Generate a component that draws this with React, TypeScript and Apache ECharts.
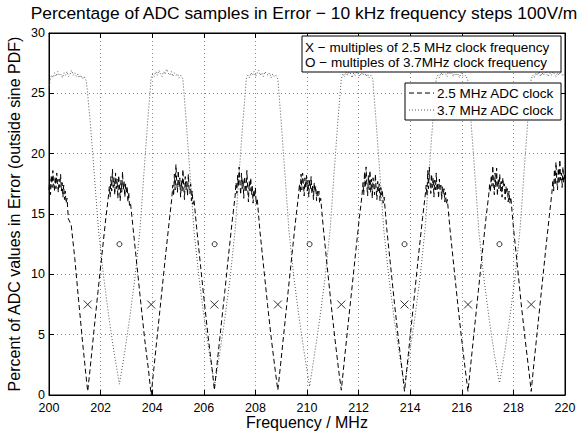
import React, { useEffect, useRef } from "react";
import * as echarts from "echarts";

const TITLE = "Percentage of ADC samples in Error − 10 kHz frequency steps 100V/m";
const X_NAME = "Frequency / MHz";
const Y_NAME = "Percent of ADC values in Error (outside sine PDF)";
const MARKER_NOTES = [
  "X − multiples of 2.5 MHz clock frequency",
  "O − multiples of 3.7MHz clock frequency",
];
const SERIES_NAMES = ["2.5 MHz ADC clock", "3.7 MHz ADC clock"];

const X_MIN = 200;
const X_MAX = 220;
const X_STEP = 2;
const Y_MIN = 0;
const Y_MAX = 30;
const Y_STEP = 5;

// "X" markers (multiples of 2.5 MHz clock)
const clock25Freqs = [201.5, 203.96, 206.41, 208.87, 211.33, 213.78, 216.24, 218.69];
const clock25Level = 7.5;
// "O" markers (multiples of 3.7 MHz clock)
const clock37Freqs = [202.73, 206.42, 210.1, 213.78, 217.46];
const clock37Level = 12.5;

// 2.5 MHz ADC clock (dashed)
const adc25: [number, number][] = [
  [200.0, 17.0], [200.03, 17.9], [200.06, 16.6], [200.09, 18.2], [200.12, 17.2], [200.15, 18.6], [200.18, 17.5], [200.21, 16.9], [200.24, 18.1], [200.27, 17.1], [200.3, 18.4], [200.33, 17.6], [200.36, 16.8], [200.39, 17.9], [200.42, 17.2], [200.45, 18.3], [200.48, 16.9], [200.51, 17.6], [200.54, 16.4], [200.57, 17.4], [200.6, 16.2], [200.63, 16.9], [200.66, 15.9], [200.7, 16.3], [200.75, 14.6], [200.86, 14.1],
  [201.0, 11.3], [201.15, 7.8], [201.3, 4.4], [201.42, 1.9], [201.5, 0.3],
  [201.6, 2.3], [201.75, 5.5], [201.9, 8.6], [202.05, 11.6], [202.2, 14.6], [202.3, 16.4],
  [202.34, 17.3], [202.37, 16.4], [202.4, 18.1], [202.43, 16.9], [202.46, 18.7], [202.49, 17.2], [202.52, 18.0], [202.55, 16.6], [202.58, 18.4], [202.61, 17.1], [202.64, 17.9], [202.67, 16.3], [202.7, 18.2], [202.73, 17.4], [202.76, 16.1], [202.79, 17.8], [202.82, 16.8], [202.85, 18.5], [202.88, 17.0], [202.91, 17.7], [202.94, 16.4], [202.97, 17.5], [203.0, 16.7], [203.03, 17.3], [203.06, 16.0], [203.09, 16.8], [203.12, 15.7], [203.16, 15.9],
  [203.26, 13.8], [203.41, 10.7], [203.56, 7.6], [203.71, 4.6], [203.86, 2.0], [203.96, 0.0],
  [204.06, 2.1], [204.21, 5.2], [204.36, 8.3], [204.51, 11.4], [204.66, 14.4], [204.76, 16.3],
  [204.8, 17.4], [204.83, 16.5], [204.86, 18.3], [204.89, 17.0], [204.92, 19.1], [204.95, 17.7], [204.98, 16.8], [205.01, 18.6], [205.04, 17.2], [205.07, 18.0], [205.1, 16.4], [205.13, 17.8], [205.16, 16.9], [205.19, 18.7], [205.22, 17.3], [205.25, 16.2], [205.28, 18.1], [205.31, 17.0], [205.34, 17.7], [205.37, 16.5], [205.4, 18.3], [205.43, 17.1], [205.46, 16.7], [205.49, 17.5], [205.52, 16.1], [205.55, 16.9], [205.58, 15.8], [205.62, 16.2],
  [205.72, 13.9], [205.87, 10.8], [206.02, 7.7], [206.17, 4.8], [206.32, 2.2], [206.41, 0.4],
  [206.51, 2.5], [206.66, 5.5], [206.81, 8.5], [206.96, 11.6], [207.11, 14.6], [207.21, 16.4],
  [207.25, 17.6], [207.28, 16.7], [207.31, 18.2], [207.34, 17.3], [207.37, 18.9], [207.4, 17.5], [207.43, 16.6], [207.46, 18.4], [207.49, 17.1], [207.52, 17.9], [207.55, 16.3], [207.58, 18.1], [207.61, 17.4], [207.64, 16.8], [207.67, 18.6], [207.7, 17.2], [207.73, 16.0], [207.76, 17.7], [207.79, 16.9], [207.82, 18.0], [207.85, 16.6], [207.88, 17.3], [207.91, 15.9], [207.94, 17.0], [207.97, 16.4], [208.0, 17.2], [208.03, 15.8], [208.07, 16.3],
  [208.17, 13.7], [208.32, 10.6], [208.47, 7.5], [208.62, 4.6], [208.77, 2.0], [208.87, 0.4],
  [208.97, 2.4], [209.12, 5.5], [209.27, 8.6], [209.42, 11.7], [209.57, 14.7], [209.67, 16.5],
  [209.71, 17.5], [209.74, 16.8], [209.77, 18.3], [209.8, 17.0], [209.83, 18.4], [209.86, 17.6], [209.89, 16.5], [209.92, 18.0], [209.95, 17.2], [209.98, 18.2], [210.01, 16.9], [210.04, 17.8], [210.07, 16.4], [210.1, 17.9], [210.13, 17.1], [210.16, 18.1], [210.19, 16.7], [210.22, 17.4], [210.25, 16.2], [210.28, 17.6], [210.31, 16.8], [210.34, 17.3], [210.37, 16.1], [210.4, 17.0], [210.43, 16.5], [210.46, 16.9], [210.49, 15.9], [210.53, 16.3],
  [210.63, 13.9], [210.78, 10.7], [210.93, 7.6], [211.08, 4.7], [211.23, 2.0], [211.33, 0.4],
  [211.43, 2.5], [211.58, 5.6], [211.73, 8.6], [211.88, 11.7], [212.03, 14.7], [212.13, 16.5],
  [212.17, 17.6], [212.2, 16.6], [212.23, 18.5], [212.26, 17.2], [212.29, 18.9], [212.32, 17.4], [212.35, 16.5], [212.38, 18.2], [212.41, 17.0], [212.44, 18.6], [212.47, 16.8], [212.5, 17.9], [212.53, 16.3], [212.56, 18.0], [212.59, 17.3], [212.62, 16.6], [212.65, 18.3], [212.68, 17.1], [212.71, 16.2], [212.74, 17.7], [212.77, 16.9], [212.8, 17.5], [212.83, 16.1], [212.86, 17.2], [212.89, 16.6], [212.92, 17.0], [212.95, 15.9], [212.99, 16.4],
  [213.09, 13.8], [213.24, 10.7], [213.39, 7.6], [213.54, 4.7], [213.69, 2.0], [213.78, 0.3],
  [213.88, 2.4], [214.03, 5.5], [214.18, 8.6], [214.33, 11.7], [214.48, 14.7], [214.58, 16.5],
  [214.62, 17.4], [214.65, 16.5], [214.68, 18.6], [214.71, 17.1], [214.74, 18.9], [214.77, 17.6], [214.8, 16.7], [214.83, 18.3], [214.86, 17.2], [214.89, 18.0], [214.92, 16.4], [214.95, 17.8], [214.98, 17.0], [215.01, 18.4], [215.04, 16.9], [215.07, 17.6], [215.1, 16.3], [215.13, 17.9], [215.16, 17.0], [215.19, 17.4], [215.22, 16.2], [215.25, 17.3], [215.28, 16.6], [215.31, 17.1], [215.34, 16.0], [215.37, 16.8], [215.4, 15.8], [215.44, 16.2],
  [215.54, 13.8], [215.69, 10.7], [215.84, 7.6], [215.99, 4.7], [216.14, 2.0], [216.24, 0.3],
  [216.34, 2.4], [216.49, 5.5], [216.64, 8.6], [216.79, 11.7], [216.94, 14.7], [217.04, 16.5],
  [217.08, 17.5], [217.11, 16.8], [217.14, 18.2], [217.17, 17.3], [217.2, 19.0], [217.23, 17.6], [217.26, 16.6], [217.29, 18.4], [217.32, 17.2], [217.35, 18.8], [217.38, 16.5], [217.41, 17.9], [217.44, 17.1], [217.47, 18.3], [217.5, 16.9], [217.53, 17.7], [217.56, 16.4], [217.59, 18.0], [217.62, 17.2], [217.65, 17.5], [217.68, 16.2], [217.71, 17.3], [217.74, 16.7], [217.77, 17.1], [217.8, 16.0], [217.83, 16.9], [217.86, 15.9], [217.9, 16.4],
  [218.0, 13.9], [218.15, 10.8], [218.3, 7.6], [218.45, 4.7], [218.6, 2.0], [218.69, 0.3],
  [218.79, 2.5], [218.94, 5.6], [219.09, 8.7], [219.24, 11.8], [219.39, 14.8], [219.49, 16.7],
  [219.53, 17.8], [219.56, 16.9], [219.59, 18.7], [219.62, 17.4], [219.65, 19.3], [219.68, 17.9], [219.71, 17.0], [219.74, 18.8], [219.77, 17.5], [219.8, 19.5], [219.83, 17.8], [219.86, 18.4], [219.89, 17.2], [219.92, 18.9], [219.95, 17.6], [219.98, 18.3], [220.0, 17.9],
];

// 3.7 MHz ADC clock (dotted)
const adc37: [number, number][] = [
  [200.0, 25.4], [200.05, 26.2], [200.1, 26.5], [200.16, 26.3], [200.22, 26.7], [200.28, 26.4], [200.34, 26.8], [200.4, 26.5], [200.46, 26.6], [200.52, 26.3], [200.58, 26.7], [200.64, 26.5], [200.7, 26.8], [200.76, 26.4], [200.82, 26.6], [200.88, 26.9], [200.94, 26.5], [201.0, 26.7], [201.06, 26.4], [201.12, 26.6], [201.18, 26.3], [201.24, 26.5], [201.3, 26.2], [201.36, 26.4], [201.45, 26.0],
  [201.6, 22.6], [201.76, 18.2], [201.92, 13.6], [202.13, 9.6], [202.33, 6.3], [202.53, 3.4], [202.73, 0.9],
  [202.93, 3.5], [203.13, 6.4], [203.33, 9.7], [203.53, 13.8], [203.68, 18.4], [203.83, 22.8], [203.96, 26.3],
  [204.02, 26.6], [204.08, 26.4], [204.14, 26.8], [204.2, 26.5], [204.26, 26.9], [204.32, 26.6], [204.38, 26.4], [204.44, 26.8], [204.5, 26.6], [204.56, 27.0], [204.62, 26.7], [204.68, 26.5], [204.74, 26.8], [204.8, 26.4], [204.86, 26.7], [204.92, 26.5], [204.98, 26.6], [205.04, 26.3], [205.1, 26.5], [205.19, 26.2],
  [205.32, 22.6], [205.47, 18.2], [205.62, 13.6], [205.82, 9.6], [206.02, 6.3], [206.22, 3.4], [206.42, 0.8],
  [206.62, 3.5], [206.82, 6.4], [207.02, 9.7], [207.22, 13.8], [207.37, 18.4], [207.52, 22.8], [207.65, 26.2],
  [207.71, 26.5], [207.77, 26.3], [207.83, 26.7], [207.89, 26.5], [207.95, 26.8], [208.01, 26.4], [208.07, 26.7], [208.13, 26.9], [208.19, 26.5], [208.25, 26.7], [208.31, 26.4], [208.37, 26.8], [208.43, 26.6], [208.49, 26.5], [208.55, 26.7], [208.61, 26.3], [208.67, 26.6], [208.73, 26.4], [208.79, 26.5], [208.87, 26.2],
  [209.0, 22.6], [209.15, 18.2], [209.3, 13.6], [209.5, 9.6], [209.7, 6.3], [209.9, 3.4], [210.1, 0.7],
  [210.3, 3.5], [210.5, 6.4], [210.7, 9.7], [210.9, 13.8], [211.05, 18.4], [211.2, 22.8], [211.33, 26.2],
  [211.39, 26.6], [211.45, 26.4], [211.51, 26.8], [211.57, 26.5], [211.63, 26.9], [211.69, 26.6], [211.75, 26.3], [211.81, 26.7], [211.87, 26.5], [211.93, 26.8], [211.99, 26.6], [212.05, 26.4], [212.11, 26.7], [212.17, 26.5], [212.23, 26.8], [212.29, 26.4], [212.35, 26.6], [212.41, 26.3], [212.47, 26.5], [212.55, 26.2],
  [212.68, 22.6], [212.83, 18.2], [212.98, 13.6], [213.18, 9.6], [213.38, 6.3], [213.58, 3.4], [213.78, 0.8],
  [213.98, 3.5], [214.18, 6.4], [214.38, 9.7], [214.58, 13.8], [214.73, 18.4], [214.88, 22.8], [215.01, 26.2],
  [215.07, 26.5], [215.13, 26.3], [215.19, 26.7], [215.25, 26.5], [215.31, 26.8], [215.37, 26.6], [215.43, 26.4], [215.49, 26.9], [215.55, 26.6], [215.61, 26.7], [215.67, 26.4], [215.73, 26.8], [215.79, 26.5], [215.85, 26.6], [215.91, 26.3], [215.97, 26.7], [216.03, 26.5], [216.09, 26.4], [216.15, 26.5], [216.23, 26.1],
  [216.36, 22.6], [216.51, 18.2], [216.66, 13.6], [216.86, 9.6], [217.06, 6.3], [217.26, 3.4], [217.46, 1.0],
  [217.66, 3.5], [217.86, 6.4], [218.06, 9.7], [218.26, 13.8], [218.41, 18.4], [218.56, 22.8], [218.69, 26.2],
  [218.75, 26.5], [218.81, 26.3], [218.87, 26.7], [218.93, 26.5], [218.99, 26.8], [219.05, 26.4], [219.11, 26.7], [219.17, 26.5], [219.23, 26.9], [219.29, 26.6], [219.35, 26.4], [219.41, 26.7], [219.47, 26.5], [219.53, 26.8], [219.59, 26.6], [219.65, 26.4], [219.71, 26.7], [219.77, 26.5], [219.83, 26.8], [219.89, 26.5], [219.95, 26.6], [220.0, 26.4],
];

const FONT = "'Liberation Sans', Arial, Helvetica, sans-serif";

const GRID = { left: 49, right: 17, top: 33, bottom: 37 };

export default function App() {
  const ref = useRef<HTMLDivElement | null>(null);

  useEffect(() => {
    if (!ref.current) return;
    const chart = echarts.init(ref.current, undefined, { renderer: "svg" });

    const plotLeft = GRID.left;
    const plotRight = 582 - GRID.right;
    const plotCenter = (plotLeft + plotRight) / 2;

    const splitLine = {
      show: true,
      lineStyle: { color: "#8a8a8a", width: 1, type: [1, 3] as any },
    };
    const tick = { show: true, inside: true, length: 5, lineStyle: { color: "#000", width: 1 } };
    const axisLine = { show: true, onZero: false, lineStyle: { color: "#000", width: 1 } };

    const xBase = { type: "value" as const, min: X_MIN, max: X_MAX, interval: X_STEP };
    const yBase = { type: "value" as const, min: Y_MIN, max: Y_MAX, interval: Y_STEP };

    const legend1 = { x: 302, y: 36, w: 259, h: 36 };
    const legend2 = { x: 405, y: 83, w: 156, h: 37 };

    chart.setOption({
      animation: false,
      backgroundColor: "#fff",
      textStyle: { fontFamily: FONT },
      grid: {
        left: GRID.left,
        right: GRID.right,
        top: GRID.top,
        bottom: GRID.bottom,
        show: true,
        borderColor: "#000",
        borderWidth: 1,
        backgroundColor: "transparent",
      },
      xAxis: [
        {
          ...xBase,
          position: "bottom",
          axisLine,
          axisTick: tick,
          splitLine,
          axisLabel: { color: "#000", fontSize: 12.5, lineHeight: 12, fontFamily: FONT, margin: 6.5 },
        },
        {
          ...xBase,
          position: "top",
          axisLine,
          axisTick: tick,
          splitLine: { show: false },
          axisLabel: { show: false },
        },
      ],
      yAxis: [
        {
          ...yBase,
          position: "left",
          axisLine,
          axisTick: tick,
          splitLine,
          axisLabel: { color: "#000", fontSize: 12.5, lineHeight: 10, fontFamily: FONT, margin: 4 },
        },
        {
          ...yBase,
          position: "right",
          axisLine,
          axisTick: tick,
          splitLine: { show: false },
          axisLabel: { show: false },
        },
      ],
      series: [
        {
          name: SERIES_NAMES[0],
          type: "line",
          data: adc25,
          showSymbol: false,
          symbol: "none",
          clip: true,
          lineStyle: { color: "#000", width: 1, type: [5, 3] },
          z: 3,
        },
        {
          name: SERIES_NAMES[1],
          type: "line",
          data: adc37,
          showSymbol: false,
          symbol: "none",
          clip: true,
          lineStyle: { color: "#555", width: 1, type: [1, 2] },
          z: 2,
        },
        {
          name: "x-markers",
          type: "scatter",
          data: clock25Freqs.map((f) => [f, clock25Level]),
          symbol: "path://M0,0L10,10M10,0L0,10",
          symbolSize: 8,
          itemStyle: { color: "rgba(0,0,0,0)", borderColor: "#000", borderWidth: 1 },
          z: 4,
        },
        {
          name: "o-markers",
          type: "scatter",
          data: clock37Freqs.map((f) => [f, clock37Level]),
          symbol: "circle",
          symbolSize: 5,
          itemStyle: { color: "rgba(0,0,0,0)", borderColor: "#000", borderWidth: 1 },
          z: 4,
        },
      ],
      graphic: [
        {
          type: "text",
          x: 304,
          y: 13,
          style: {
            text: TITLE,
            fill: "#000",
            font: `17.4px ${FONT}`,
            textAlign: "center",
            textVerticalAlign: "middle",
          },
        },
        {
          type: "text",
          x: plotCenter,
          y: 422,
          style: {
            text: X_NAME,
            fill: "#000",
            font: `16px ${FONT}`,
            lineHeight: 14,
            textAlign: "center",
            textVerticalAlign: "middle",
          },
        },
        {
          type: "text",
          x: 14,
          y: (GRID.top + 432 - GRID.bottom) / 2,
          rotation: Math.PI / 2,
          style: {
            text: Y_NAME,
            fill: "#000",
            font: `16px ${FONT}`,
            textAlign: "center",
            textVerticalAlign: "middle",
          },
        },
        {
          type: "rect",
          shape: { x: legend1.x, y: legend1.y, width: legend1.w, height: legend1.h },
          style: { fill: "#fff", stroke: "#000", lineWidth: 1 },
          z: 10,
        },
        {
          type: "text",
          x: legend1.x + 3,
          y: legend1.y + 11,
          z: 11,
          style: { text: MARKER_NOTES[0], fill: "#000", font: `13.5px ${FONT}`, textVerticalAlign: "middle" },
        },
        {
          type: "text",
          x: legend1.x + 3,
          y: legend1.y + 26,
          z: 11,
          style: { text: MARKER_NOTES[1], fill: "#000", font: `13.5px ${FONT}`, textVerticalAlign: "middle" },
        },
        {
          type: "rect",
          shape: { x: legend2.x, y: legend2.y, width: legend2.w, height: legend2.h },
          style: { fill: "#fff", stroke: "#000", lineWidth: 1 },
          z: 10,
        },
        {
          type: "line",
          z: 11,
          shape: { x1: legend2.x + 4, y1: legend2.y + 10, x2: legend2.x + 29, y2: legend2.y + 10 },
          style: { stroke: "#000", lineWidth: 1, lineDash: [5, 3] },
        },
        {
          type: "line",
          z: 11,
          shape: { x1: legend2.x + 4, y1: legend2.y + 27, x2: legend2.x + 29, y2: legend2.y + 27 },
          style: { stroke: "#555", lineWidth: 1, lineDash: [1, 2] },
        },
        {
          type: "text",
          x: legend2.x + 32,
          y: legend2.y + 10,
          z: 11,
          style: { text: SERIES_NAMES[0], fill: "#000", font: `13.5px ${FONT}`, textVerticalAlign: "middle" },
        },
        {
          type: "text",
          x: legend2.x + 32,
          y: legend2.y + 27,
          z: 11,
          style: { text: SERIES_NAMES[1], fill: "#000", font: `13.5px ${FONT}`, textVerticalAlign: "middle" },
        },
      ],
    });

    return () => {
      chart.dispose();
    };
  }, []);

  return (
    <div
      ref={ref}
      style={{ position: "fixed", left: 0, top: 0, width: 582, height: 432, background: "#fff" }}
    />
  );
}
